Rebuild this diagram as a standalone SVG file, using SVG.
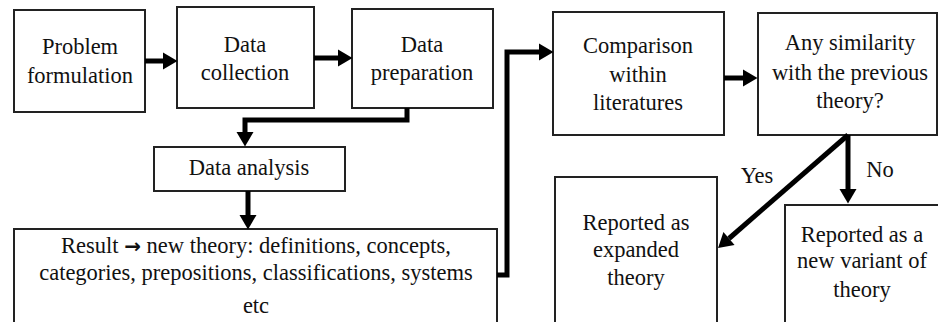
<svg xmlns="http://www.w3.org/2000/svg" width="938" height="322" viewBox="0 0 938 322">
<defs>
<marker id="ah" markerUnits="userSpaceOnUse" markerWidth="15" markerHeight="17" refX="0" refY="8.5" orient="auto" overflow="visible">
<path d="M0,0 L14.5,8.5 L0,17 z" fill="#000"/>
</marker>
</defs>
<rect width="938" height="322" fill="#fff"/>
<g id="n1"><rect x="14" y="10" width="131" height="102" fill="#fff" stroke="#222" stroke-width="2"/>
<text x="80" y="54" font-family="Liberation Serif" font-size="22.5" text-anchor="middle" fill="#111">Problem</text>
<text x="80" y="83" font-family="Liberation Serif" font-size="22.5" text-anchor="middle" fill="#111">formulation</text></g>
<g id="n2"><rect x="177" y="7" width="137" height="101" fill="#fff" stroke="#222" stroke-width="2"/>
<text x="245" y="52" font-family="Liberation Serif" font-size="22.5" text-anchor="middle" fill="#111">Data</text>
<text x="245" y="80" font-family="Liberation Serif" font-size="22.5" text-anchor="middle" fill="#111">collection</text></g>
<g id="n3"><rect x="352" y="9" width="141" height="99" fill="#fff" stroke="#222" stroke-width="2"/>
<text x="422" y="52" font-family="Liberation Serif" font-size="22.5" text-anchor="middle" fill="#111">Data</text>
<text x="422" y="80" font-family="Liberation Serif" font-size="22.5" text-anchor="middle" fill="#111">preparation</text></g>
<g id="n4"><rect x="154" y="147" width="191" height="44" fill="#fff" stroke="#222" stroke-width="2"/>
<text x="249" y="175" font-family="Liberation Serif" font-size="22.5" text-anchor="middle" fill="#111">Data analysis</text></g>
<g id="n5"><rect x="14" y="229" width="483" height="100" fill="#fff" stroke="#222" stroke-width="2"/>
<text x="256" y="253" font-family="Liberation Serif" font-size="22.5" text-anchor="middle" fill="#111">Result <tspan font-family="DejaVu Sans" font-weight="bold" font-size="20">→</tspan> new theory: definitions, concepts,</text>
<text x="256" y="280" font-family="Liberation Serif" font-size="22.5" text-anchor="middle" fill="#111">categories, prepositions, classifications, systems</text>
<text x="256" y="313" font-family="Liberation Serif" font-size="22.5" text-anchor="middle" fill="#111">etc</text></g>
<g id="n6"><rect x="553" y="12" width="171" height="123" fill="#fff" stroke="#222" stroke-width="2"/>
<text x="638" y="53" font-family="Liberation Serif" font-size="22.5" text-anchor="middle" fill="#111">Comparison</text>
<text x="638" y="82" font-family="Liberation Serif" font-size="22.5" text-anchor="middle" fill="#111">within</text>
<text x="638" y="110" font-family="Liberation Serif" font-size="22.5" text-anchor="middle" fill="#111">literatures</text></g>
<g id="n7"><rect x="758" y="13" width="179" height="122" fill="#fff" stroke="#222" stroke-width="2"/>
<text x="850" y="50" font-family="Liberation Serif" font-size="22.5" text-anchor="middle" fill="#111">Any similarity</text>
<text x="850" y="80" font-family="Liberation Serif" font-size="22.5" text-anchor="middle" fill="#111">with the previous</text>
<text x="850" y="108" font-family="Liberation Serif" font-size="22.5" text-anchor="middle" fill="#111">theory?</text></g>
<g id="n8"><rect x="555" y="177" width="162" height="155" fill="#fff" stroke="#222" stroke-width="2"/>
<text x="636" y="230" font-family="Liberation Serif" font-size="22.5" text-anchor="middle" fill="#111">Reported as</text>
<text x="636" y="257" font-family="Liberation Serif" font-size="22.5" text-anchor="middle" fill="#111">expanded</text>
<text x="636" y="285" font-family="Liberation Serif" font-size="22.5" text-anchor="middle" fill="#111">theory</text></g>
<g id="n9"><rect x="785" y="205" width="160" height="130" fill="#fff" stroke="#222" stroke-width="2"/>
<text x="862" y="242" font-family="Liberation Serif" font-size="22.5" text-anchor="middle" fill="#111">Reported as a</text>
<text x="862" y="268" font-family="Liberation Serif" font-size="22.5" text-anchor="middle" fill="#111">new variant of</text>
<text x="862" y="297" font-family="Liberation Serif" font-size="22.5" text-anchor="middle" fill="#111">theory</text></g>
<g id="connectors" fill="none" stroke="#000" stroke-width="5">
<polyline points="145,61 163,61" marker-end="url(#ah)"/>
<polyline points="314,58 338,58" marker-end="url(#ah)"/>
<polyline points="407,108 407,120 245,120 245,132" marker-end="url(#ah)"/>
<polyline points="248,191 248,215" marker-end="url(#ah)"/>
<polyline points="497,275 507,275 507,52 539,52" marker-end="url(#ah)"/>
<polyline points="724,78 743,78" marker-end="url(#ah)"/>
<polyline points="848,135 848,189" marker-end="url(#ah)"/>
<polyline points="848,135 729,238.5" marker-end="url(#ah)"/>
<text x="757" y="183" font-family="Liberation Serif" font-size="22.5" text-anchor="middle" fill="#111" stroke="none">Yes</text>
<text x="880" y="177" font-family="Liberation Serif" font-size="22.5" text-anchor="middle" fill="#111" stroke="none">No</text>
</g>
</svg>
